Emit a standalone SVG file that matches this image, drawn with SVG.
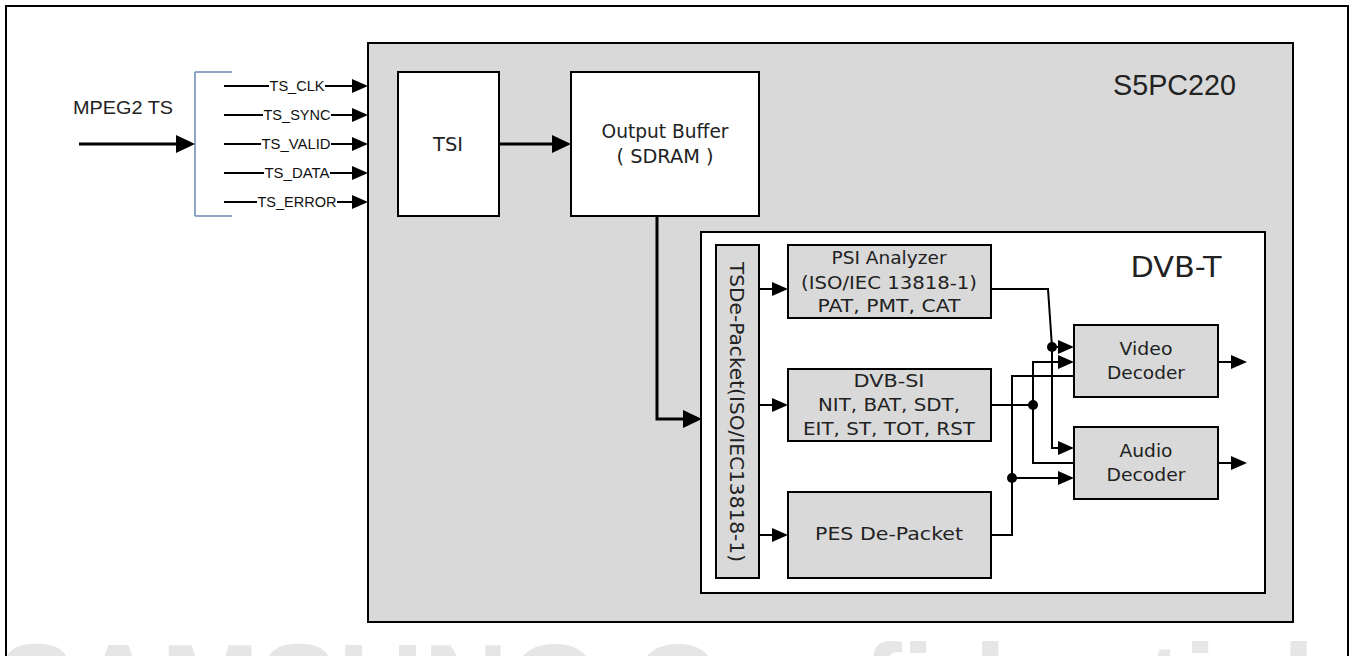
<svg xmlns="http://www.w3.org/2000/svg" width="1353" height="656" viewBox="0 0 1353 656">
<style>
.frame{fill:#fff;stroke:#000;stroke-width:2}
.gray{fill:#d9d9d9;stroke:#000;stroke-width:2}
.white{fill:#fff;stroke:#000;stroke-width:2}
.ln{fill:none;stroke:#000;stroke-width:2}
.thick{fill:none;stroke:#000;stroke-width:3}
.t{font-family:"DejaVu Sans",sans-serif;fill:#222;text-anchor:middle}
.h{font-family:"Liberation Sans",Arial,sans-serif;fill:#222}
.sig{font-family:"Liberation Sans",Arial,sans-serif;font-size:14px;fill:#111;text-anchor:middle}
.wm{font-family:"Liberation Sans",Arial,sans-serif;font-weight:bold;fill:#e6e6e6}
</style>
<defs>
<marker id="a" markerUnits="userSpaceOnUse" markerWidth="16" markerHeight="14" refX="12" refY="7" orient="auto"><path d="M0,0 L16,7 L0,14 z" fill="#000"/></marker>
<marker id="A" markerUnits="userSpaceOnUse" markerWidth="19" markerHeight="18" refX="14" refY="9" orient="auto"><path d="M0,0 L19,9 L0,18 z" fill="#000"/></marker>
</defs>
<rect x="0" y="0" width="1353" height="656" fill="#fff"/>
<text class="wm" x="-3" y="727" font-size="118" textLength="1318" lengthAdjust="spacing">SAMSUNG Confidential</text>
<rect class="frame" x="6" y="6" width="1342" height="720" fill="none" style="fill:none"/>

<g id="s5pc220">
<rect class="gray" x="368" y="43" width="925" height="579"/>
<text class="h" x="1113" y="95" font-size="29" textLength="123" lengthAdjust="spacingAndGlyphs">S5PC220</text>
</g>

<g id="mpeg2ts">
<text class="h" x="73" y="114" font-size="19" textLength="100" lengthAdjust="spacingAndGlyphs">MPEG2 TS</text>
<path d="M195,72 H232 M195,72 V216 M195,216 H232" fill="none" stroke="#6d8bb5" stroke-width="1.5"/>
</g>

<g id="tsi">
<rect class="white" x="398" y="72" width="101" height="144"/>
<text class="t" x="448" y="151" font-size="19" textLength="30" lengthAdjust="spacingAndGlyphs">TSI</text>
</g>

<g id="outbuf">
<rect class="white" x="571" y="72" width="188" height="144"/>
<text class="t" x="665" y="138" font-size="19" textLength="127" lengthAdjust="spacingAndGlyphs">Output Buffer</text>
<text class="t" x="665" y="163" font-size="19" textLength="97" lengthAdjust="spacingAndGlyphs">( SDRAM )</text>
</g>

<g id="dvbt">
<rect class="white" x="701" y="232" width="564" height="361"/>
<text class="t" x="1176" y="277" font-size="28" textLength="91" lengthAdjust="spacingAndGlyphs">DVB-T</text>
</g>

<g id="tsdepacket">
<rect class="gray" x="716" y="245" width="43" height="333"/>
<text class="t" transform="translate(737,412) rotate(90)" y="0" dy="0.36em" font-size="20" textLength="300" lengthAdjust="spacingAndGlyphs">TSDe-Packet(ISO/IEC13818-1)</text>
</g>

<g id="psi">
<rect class="gray" x="788" y="245" width="203" height="73"/>
<text class="t" x="889" y="264" font-size="17" textLength="115" lengthAdjust="spacingAndGlyphs">PSI Analyzer</text>
<text class="t" x="889" y="289" font-size="17" textLength="176" lengthAdjust="spacingAndGlyphs">(ISO/IEC 13818-1)</text>
<text class="t" x="889" y="312" font-size="17" textLength="143" lengthAdjust="spacingAndGlyphs">PAT, PMT, CAT</text>
</g>

<g id="dvbsi">
<rect class="gray" x="788" y="369" width="203" height="72"/>
<text class="t" x="889" y="387" font-size="17" textLength="71" lengthAdjust="spacingAndGlyphs">DVB-SI</text>
<text class="t" x="889" y="411" font-size="17" textLength="142" lengthAdjust="spacingAndGlyphs">NIT, BAT, SDT,</text>
<text class="t" x="889" y="435" font-size="17" textLength="172" lengthAdjust="spacingAndGlyphs">EIT, ST, TOT, RST</text>
</g>

<g id="pes">
<rect class="gray" x="788" y="492" width="203" height="86"/>
<text class="t" x="889" y="540" font-size="17" textLength="148" lengthAdjust="spacingAndGlyphs">PES De-Packet</text>
</g>

<g id="video">
<rect class="gray" x="1074" y="325" width="144" height="72"/>
<text class="t" x="1146" y="355" font-size="17" textLength="53" lengthAdjust="spacingAndGlyphs">Video</text>
<text class="t" x="1146" y="379" font-size="17" textLength="78" lengthAdjust="spacingAndGlyphs">Decoder</text>
</g>

<g id="audio">
<rect class="gray" x="1074" y="427" width="144" height="72"/>
<text class="t" x="1146" y="457" font-size="17" textLength="53" lengthAdjust="spacingAndGlyphs">Audio</text>
<text class="t" x="1146" y="481" font-size="17" textLength="79" lengthAdjust="spacingAndGlyphs">Decoder</text>
</g>

<g id="signals">
<text class="sig" x="297" y="91" textLength="55" lengthAdjust="spacingAndGlyphs">TS_CLK</text>
<text class="sig" x="297" y="120" textLength="67" lengthAdjust="spacingAndGlyphs">TS_SYNC</text>
<text class="sig" x="296" y="149" textLength="69" lengthAdjust="spacingAndGlyphs">TS_VALID</text>
<text class="sig" x="297" y="178" textLength="65" lengthAdjust="spacingAndGlyphs">TS_DATA</text>
<text class="sig" x="297" y="207" textLength="79" lengthAdjust="spacingAndGlyphs">TS_ERROR</text>
</g>

<g id="connectors">
<line class="thick" x1="79" y1="144" x2="190" y2="144" marker-end="url(#A)"/>
<line class="ln" x1="224" y1="86" x2="269" y2="86"/><line class="ln" x1="325" y1="86" x2="364" y2="86" marker-end="url(#a)"/>
<line class="ln" x1="224" y1="115" x2="263" y2="115"/><line class="ln" x1="331" y1="115" x2="364" y2="115" marker-end="url(#a)"/>
<line class="ln" x1="224" y1="144" x2="261" y2="144"/><line class="ln" x1="331" y1="144" x2="364" y2="144" marker-end="url(#a)"/>
<line class="ln" x1="224" y1="173" x2="264" y2="173"/><line class="ln" x1="330" y1="173" x2="364" y2="173" marker-end="url(#a)"/>
<line class="ln" x1="224" y1="202" x2="257" y2="202"/><line class="ln" x1="337" y1="202" x2="364" y2="202" marker-end="url(#a)"/>
<line class="thick" x1="499" y1="144" x2="566" y2="144" marker-end="url(#A)"/>
<path class="thick" d="M657,216 V419 H697" marker-end="url(#A)"/>
<line class="ln" x1="759" y1="289" x2="784" y2="289" marker-end="url(#a)"/>
<line class="ln" x1="759" y1="405" x2="784" y2="405" marker-end="url(#a)"/>
<line class="ln" x1="759" y1="535" x2="784" y2="535" marker-end="url(#a)"/>
<path class="ln" d="M991,289 H1048 L1052,347 V448 H1070" marker-end="url(#a)"/>
<line class="ln" x1="1052" y1="347" x2="1070" y2="347" marker-end="url(#a)"/>
<path class="ln" d="M991,405 H1033 V362 H1070" marker-end="url(#a)"/>
<path class="ln" d="M1033,405 V463 H1074"/>
<path class="ln" d="M991,535 H1012 V376 H1074"/>
<line class="ln" x1="1012" y1="478" x2="1070" y2="478" marker-end="url(#a)"/>
<line class="ln" x1="1218" y1="362" x2="1243" y2="362" marker-end="url(#a)"/>
<line class="ln" x1="1218" y1="463" x2="1243" y2="463" marker-end="url(#a)"/>
<circle cx="1052" cy="347" r="5"/>
<circle cx="1033" cy="405" r="5"/>
<circle cx="1012" cy="478" r="5"/>
</g>
</svg>
